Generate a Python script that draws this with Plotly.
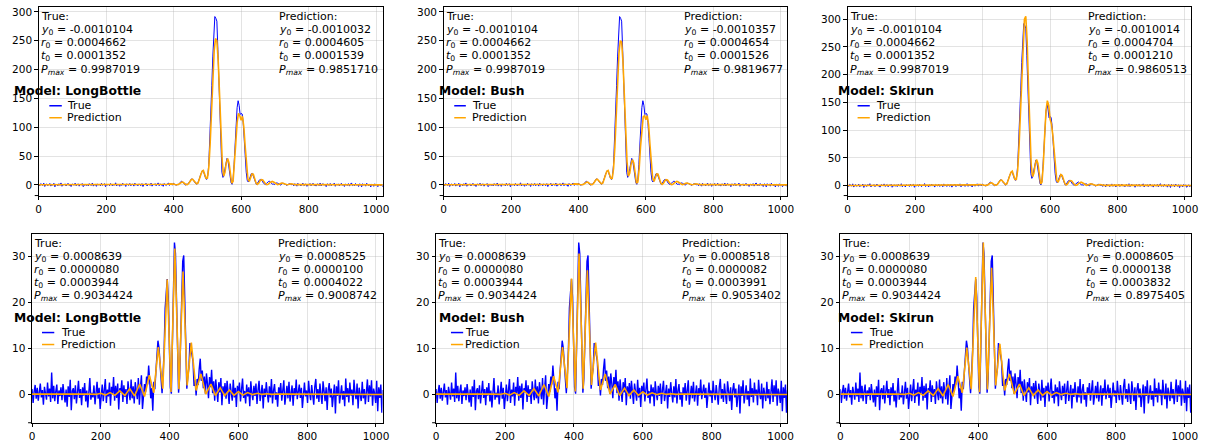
import plotly.graph_objects as go

W, H = 1210, 444

# ------------------------------------------------------------------ data
models = ["LongBottle", "Bush", "Skirun"]
x_ticks = [0, 200, 400, 600, 800, 1000]
top_y_ticks = [0, 50, 100, 150, 200, 250, 300]
bot_y_ticks = [0, 10, 20, 30]

# sample positions of the measured ("True") signals
true_x = list(range(0, 1024, 3))

# --- top row, true signal (shared by the three panels)
top_true_y = [
    1.2, -1.8, 2.2, 0.5, -0.9, 3.1, -2.7, 0.6, 1.6, -1.4,
    0.3, 2.5, -2.1, 0.9, -0.5, 2.8, -3.3, 1.4, 0.2, -1.6,
    2.1, -0.8, 3.4, -2.4, 1.0, -0.3, 1.8, -1.9, 0.8, 2.7,
    -1.0, 0.5, -2.8, 1.5, 0.9, -0.6, 3.0, -1.5, 0.3, 1.9,
    -2.2, 1.2, -0.2, 2.4, -3.0, 0.6, 1.6, -1.2, 1.4, -1.8,
    2.2, 0.0, -0.9, 3.3, -2.1, 0.5, 1.0, -2.5, 1.8, -0.5,
    1.4, -1.6, 2.7, -0.8, 0.3, 2.1, -3.1, 0.9, -0.3, 1.5,
    -1.4, 2.4, 0.2, -1.9, 1.2, -0.6, 3.6, -1.8, 0.8, 0.5,
    -2.4, 1.6, -1.0, 2.8, -0.2, 0.9, -2.7, 1.9, 0.3, -0.8,
    2.5, -1.5, 0.6, 1.4, -2.1, 3.0, -0.5, 1.0, -1.6, 1.8,
    0.2, -1.2, 2.2, -2.8, 0.9, 0.5, 2.7, -1.8, 0.0, 1.6,
    -0.9, 3.1, -2.2, 1.2, -0.3, 2.1, -1.5, 0.8, 3.5, -1.4,
    1.9, -0.6, 1.0, -2.5, 2.4, 0.3, -1.0, 1.5, 3.2, -0.8,
    1.4, 2.1, -0.5, 2.8,
    # x = 402 .. 750
    1.5, 0.2, -0.8, 1.0, 0.5, 2.5, 4.0, 6.5, 5.5, 3.8,
    1.5, -0.5, 1.2, 0.8, 3.0, 5.5, 8.0, 10.5, 9.5, 8.0,
    4.5, 2.0, 1.0, 2.5, 6.0, 12.0, 18.0, 23.5, 25.5, 22.0,
    16.0, 11.0, 9.5, 16.0, 35.0, 72.0, 120.0, 172.0, 222.0, 262.0,
    292.0, 289.0, 284.0, 235.0, 175.0, 110.0, 55.0, 22.0, 13.0, 17.0,
    28.0, 40.0, 46.0, 42.0, 30.0, 14.0, 4.0, 1.0, 9.0, 35.0,
    72.0, 108.0, 134.0, 146.0, 138.0, 122.0, 124.0, 123.0, 108.0, 80.0,
    48.0, 22.0, 8.0, 5.0, 9.0, 15.0, 19.5, 20.0, 15.0, 9.0,
    3.5, 0.8, 2.5, 6.0, 8.5, 9.5, 8.0, 6.5, 3.0, 1.2,
    0.5, 2.5, 4.5, 6.0, 6.5, 5.0, 3.0, 1.0, 1.5, 0.5,
    2.5, 3.5, 3.0, 1.5, 0.2, -0.5, 1.8, 3.0, 2.5, 2.0,
    0.5, -0.8, 1.0, 1.5, 2.2, 1.0, 0.3,
    # x = 753 .. 1023
    0.9, -1.5, 2.1, 0.3, -2.2, 2.7, -0.5, 1.4, -1.8, 0.8,
    3.0, -1.2, 0.5, 1.8, -2.5, 1.0, -0.3, 2.4, -1.6, 0.6,
    2.8, -0.9, 0.2, -2.1, 1.6, 1.2, -1.4, 3.3, -1.9, 0.8,
    2.2, -0.6, 1.4, -3.0, 1.9, 0.3, -1.0, 2.5, -1.5, 0.9,
    0.5, 3.1, -2.4, 1.2, -0.2, 1.8, -1.8, 0.6, 2.7, -0.8,
    1.0, -2.7, 1.5, 0.2, -0.9, 2.2, -2.1, 1.4, 3.4, -1.2,
    0.3, -1.6, 2.4, -0.5, 0.8, -2.8, 1.8, 0.9, -3.4, 2.1,
    -0.3, 1.2, -2.2, 2.8, 0.0, -1.4, 1.6, -3.6, 1.0, 0.5,
    -2.5, 1.9, -0.9, 1.4, -3.1, 0.6, 1.5, -1.9, 0.9, -3.6,
    -0.6,
]

# --- top row, predictions
top_pred_x = [0, 60, 120, 180, 240, 300, 340, 370] + list(range(380, 761, 4)) + [790, 830, 880, 940, 1000, 1023]

top_pred_longbottle = [
    0.2, 0.3, 0.1, 0.3, 0.2, 0.4, 0.6, 0.9,
    0.3, 1.2, 1.8, 2.1, 2.0, 1.4, 0.6, 0.1, 0.3, 1.5,
    3.5, 5.0, 4.5, 2.5, 0.8, 0.5, 2.0, 5.5, 9.0, 10.0,
    7.5, 4.0, 2.0, 3.0, 9.0, 17.0, 23.5, 25.0, 19.0, 11.5,
    12.0, 30.0, 70.0, 125.0, 185.0, 232.0, 254.0, 250.0, 215.0, 158.0,
    92.0, 40.0, 15.0, 22.0, 38.0, 46.0, 38.0, 18.0, 3.0, 6.0,
    32.0, 72.0, 108.0, 124.0, 120.0, 112.0, 119.0, 100.0, 66.0, 32.0,
    10.0, 6.0, 13.0, 19.0, 18.5, 11.0, 3.5, 1.0, 3.0, 7.0,
    9.0, 8.5, 5.0, 2.0, 0.5, 1.0, 3.5, 5.5, 6.0, 5.0,
    3.0, 1.0, 0.5, 1.0, 2.2, 3.0, 2.8, 1.8, 0.8, 0.3,
    0.6, 1.5, 2.0, 1.6, 0.8, 0.4,
    0.8, 0.4, 0.2, 0.3, 0.1, 0.1,
]
top_pred_bush = [
    0.2, 0.3, 0.1, 0.3, 0.2, 0.4, 0.6, 0.9,
    0.3, 1.2, 1.8, 2.1, 2.0, 1.4, 0.6, 0.1, 0.3, 1.5,
    3.5, 5.0, 4.5, 2.5, 0.8, 0.5, 2.0, 5.5, 9.0, 10.0,
    7.5, 4.0, 2.0, 3.0, 9.0, 17.0, 23.5, 25.0, 19.0, 11.0,
    11.0, 28.0, 66.0, 120.0, 180.0, 228.0, 250.0, 248.0, 214.0, 158.0,
    92.0, 40.0, 15.0, 20.0, 36.0, 44.0, 38.0, 18.0, 3.0, 5.0,
    28.0, 66.0, 102.0, 118.0, 120.0, 113.0, 120.0, 104.0, 70.0, 35.0,
    12.0, 6.0, 13.0, 19.0, 18.5, 11.0, 3.5, 1.0, 3.0, 7.0,
    9.0, 8.5, 5.0, 2.0, 0.5, 1.0, 3.5, 5.5, 6.0, 5.0,
    3.0, 1.0, 0.5, 1.0, 2.2, 3.0, 2.8, 1.8, 0.8, 0.3,
    0.6, 1.5, 2.0, 1.6, 0.8, 0.4,
    0.8, 0.4, 0.2, 0.3, 0.1, 0.1,
]
top_pred_skirun = [
    0.2, 0.3, 0.1, 0.3, 0.2, 0.4, 0.6, 0.9,
    0.3, 1.2, 1.8, 2.1, 2.0, 1.4, 0.6, 0.1, 0.3, 1.5,
    3.5, 5.0, 4.5, 2.5, 0.8, 0.5, 2.0, 5.5, 9.0, 10.0,
    7.5, 4.0, 2.0, 3.0, 9.0, 17.0, 24.0, 26.0, 20.0, 11.0,
    11.0, 28.0, 70.0, 135.0, 205.0, 265.0, 300.0, 305.0, 262.0, 180.0,
    95.0, 38.0, 16.0, 22.0, 38.0, 47.0, 40.0, 18.0, 3.0, 6.0,
    38.0, 90.0, 135.0, 153.0, 145.0, 120.0, 111.0, 92.0, 60.0, 28.0,
    9.0, 6.0, 14.0, 20.0, 18.0, 11.0, 3.5, 1.0, 3.0, 7.0,
    9.0, 8.5, 5.0, 2.0, 0.5, 1.0, 3.5, 5.5, 6.0, 5.0,
    3.0, 1.0, 0.5, 1.0, 2.2, 3.0, 2.8, 1.8, 0.8, 0.3,
    0.6, 1.5, 2.0, 1.6, 0.8, 0.4,
    0.8, 0.4, 0.2, 0.3, 0.1, 0.1,
]

# --- bottom row, true signal (shared)
bot_true_y = [
    1.2, -1.8, 0.6, 2.1, -0.9, 1.5, -1.3, 0.4, 2.4, -0.6,
    1.0, -2.2, 1.7, 0.3, -1.1, 2.6, -0.4, 1.3, -1.6, 4.8,
    -0.8, 1.9, -1.4, 0.7, 2.2, -2.0, 0.9, -0.3, 1.6, -1.2,
    2.3, 0.2, -1.7, 1.1, -2.6, 1.8, -0.5, 3.2, -3.4, 0.8,
    1.4, -1.0, 2.0, -1.9, 0.5, 3.0, -0.7, 1.2, -2.3, 1.6,
    -0.2, 2.5, -1.5, 0.9, -2.8, 1.3, 3.6, -1.1, 0.4, -0.6,
    2.0, -2.1, 1.0, 2.8, -0.9, 1.5, -3.1, 0.6, 2.2, -1.4,
    0.8, 3.4, -1.8, 1.1, -0.4, 2.6, -2.4, 1.7, 0.2, 3.8,
    -1.3, 1.9, -0.7, 2.4, -3.2, 1.4, 0.5, 3.1, -1.6, 2.0,
    -0.5, 1.2, -2.0, 2.9, 0.3, -1.2, 3.3, -0.8, 1.8, -1.9,
    2.7, 0.4, -1.0, 3.6, -2.2, 1.5, 4.2, -3.1, 0.9, 2.3,
    0.6, 3.9, 2.2, 6.3, 3.0, -0.8, 1.4, -3.5, 2.8, 1.2,
    5.0, 8.0, 11.7, 10.2, 6.0, 4.2, 0.3, 4.5, 9.6, 18.8,
    23.0, 25.1, 21.2, 10.0, 1.6, 0.2, 10.3, 21.0, 33.0, 30.6,
    21.8, 8.2, 0.4, 3.5, 12.2, 24.6, 28.9, 30.2, 18.4, 9.8,
    1.3, 4.0, 5.8, 11.2, 10.2, 8.6, 7.2, 1.9, 3.1, -0.2,
    3.4, 2.1, 5.6, 7.8, 3.0, 5.2, 1.4, 3.9, 0.2, 4.6,
    2.4, -0.8, 3.8, 1.6, 5.4, 0.3, 2.9, -1.3, 3.3, 1.0,
    -1.6, 2.7, 0.5, 3.6, -2.3, 1.8, 0.1, 2.5, -0.9, 3.0,
    1.1, -2.0, 2.4, 0.2, -1.3, 3.2, -0.6, 1.5, -2.7, 1.9,
    0.3, 2.6, -1.5, 1.1, 3.5, -0.7, 0.8, -1.9, 2.2, -0.4,
    1.6, -2.5, 2.9, 0.4, -1.2, 1.9, -0.3, 2.4, -2.0, 1.0,
    3.0, -1.4, 0.6, 2.1, -3.0, 1.3, -0.5, 2.7, 0.2, -1.7,
    1.8, -0.6, 3.4, -1.9, 0.9, 2.3, -1.1, 0.5, -2.6, 1.6,
    0.1, 2.5, -1.3, 1.0, 3.1, -2.2, 0.7, 1.9, -0.8, 2.8,
    -1.5, 0.6, 2.0, -2.4, 1.4, -0.2, 3.3, -1.0, 0.8, 2.2,
    -0.7, 1.5, -2.9, 1.1, 2.6, -0.4, 0.9, -1.8, 3.0, 0.3,
    -1.2, 2.1, 0.5, -2.2, 1.7, 3.4, -0.9, 1.2, -1.6, 2.4,
    0.0, -2.0, 2.9, 0.7, -1.4, 1.6, -3.3, 1.0, 2.5, -0.6,
    1.3, -2.7, 0.4, 2.2, -4.1, 1.8, -0.3, 3.1, -1.9, 0.6,
    2.0, -1.1, 0.8, -2.5, 3.5, -0.5, 1.4, -1.7, 2.6, -0.2,
    1.1, -2.3, 3.2, 0.2, -1.0, 2.4, -3.0, 1.5, 0.4, -1.4,
    2.8, -0.8, 1.2, -2.1, 0.6, 3.3, -1.6, 2.0, -0.4, 3.1,
    -2.4, 1.3, 0.3, -1.8, 3.0, -3.6, 1.6, -0.7, 2.2, -3.9,
    1.0, -2.5,
]

# --- bottom row, predictions (sampled at ripple extrema)
bot_pred_x = [0, 40, 80, 120, 160, 186, 200, 213, 227, 241, 255, 270, 284, 298, 313, 327,
              341, 354, 367, 380, 393, 404, 415, 427, 439, 451, 463, 477, 491, 505, 520,
              533, 547, 560, 574, 587, 600, 613, 627, 641, 655, 669, 683, 697, 711, 740,
              800, 860, 920, 980, 1023]
bot_pred_longbottle = [0.1, 0.15, 0.1, 0.2, 0.15, 0.05, 0.3, -0.1, 0.45, -0.15, 0.8, -0.2, 1.3, -0.3, 2.3, -0.4,
                       4.2, 0.4, 10.3, 1.3, 25.0, 0.6, 31.7, 1.2, 26.7, 2.0, 11.3, 0.9, 4.5, 0.1, 2.3,
                       -0.2, 1.5, -0.2, 1.0, -0.15, 0.65, -0.1, 0.45, 0.0, 0.3, 0.05, 0.2, 0.05, 0.15, 0.1,
                       0.05, 0.05, 0.03, 0.02, 0.02]
bot_pred_bush = [0.1, 0.15, 0.1, 0.2, 0.15, 0.05, 0.3, -0.1, 0.45, -0.15, 0.8, -0.2, 1.3, -0.3, 2.2, -0.4,
                 4.0, 0.5, 10.3, 1.4, 25.2, 0.7, 30.6, 1.3, 27.0, 2.1, 11.3, 1.0, 4.5, 0.1, 2.2,
                 -0.2, 1.4, -0.2, 1.0, -0.15, 0.6, -0.1, 0.4, 0.0, 0.3, 0.05, 0.2, 0.05, 0.15, 0.1,
                 0.05, 0.05, 0.03, 0.02, 0.02]
bot_pred_skirun = [0.1, 0.15, 0.1, 0.2, 0.15, 0.05, 0.3, -0.1, 0.45, -0.15, 0.8, -0.2, 1.3, -0.3, 2.2, -0.4,
                   4.0, 0.4, 10.2, 1.2, 25.5, 0.5, 33.0, 1.1, 27.5, 2.0, 11.0, 0.9, 4.5, 0.1, 2.3,
                   -0.2, 1.5, -0.2, 1.0, -0.15, 0.65, -0.1, 0.45, 0.0, 0.3, 0.05, 0.2, 0.05, 0.15, 0.1,
                   0.05, 0.05, 0.03, 0.02, 0.02]

# --- parameter read-outs
top_true_params = ["-0.0010104", "0.0004662", "0.0001352", "0.9987019"]
top_pred_params = {
    "LongBottle": ["-0.0010032", "0.0004605", "0.0001539", "0.9851710"],
    "Bush": ["-0.0010357", "0.0004654", "0.0001526", "0.9819677"],
    "Skirun": ["-0.0010014", "0.0004704", "0.0001210", "0.9860513"],
}
bot_true_params = ["0.0008639", "0.0000080", "0.0003944", "0.9034424"]
bot_pred_params = {
    "LongBottle": ["0.0008525", "0.0000100", "0.0004022", "0.9008742"],
    "Bush": ["0.0008518", "0.0000082", "0.0003991", "0.9053402"],
    "Skirun": ["0.0008605", "0.0000138", "0.0003832", "0.8975405"],
}

assert len(top_true_y) == len(true_x), len(top_true_y)
assert len(bot_true_y) == len(true_x), len(bot_true_y)
for arr in (top_pred_longbottle, top_pred_bush, top_pred_skirun):
    assert len(arr) == len(top_pred_x), len(arr)
for arr in (bot_pred_longbottle, bot_pred_bush, bot_pred_skirun):
    assert len(arr) == len(bot_pred_x), len(arr)

# ------------------------------------------------------------------ layout (pixel geometry)
FONT = "DejaVu Sans"
BLUE = "#0000ff"
ORANGE = "#ffa500"

# (left, right, top, bottom) of each plotting area, in pixels
panels = [
    dict(box=(36.0, 382.7, 6.0, 195.0), yr=[-18.5, 308.6], yt=top_y_ticks, bw=1.0,
         true=top_true_y, px=top_pred_x, py=top_pred_longbottle, model="LongBottle",
         tp=top_true_params, pp=top_pred_params["LongBottle"], leg=(12.7, 46.7, 59.3, 66.7)),
    dict(box=(444.3, 790.7, 6.0, 195.0), yr=[-18.5, 308.6], yt=top_y_ticks, bw=1.0,
         true=top_true_y, px=top_pred_x, py=top_pred_bush, model="Bush",
         tp=top_true_params, pp=top_pred_params["Bush"], leg=(441.7, 455.0, 466.7, 475.0)),
    dict(box=(851.7, 1198.3, 6.0, 195.0), yr=[-18.0, 322.0], yt=top_y_ticks, bw=1.0,
         true=top_true_y, px=top_pred_x, py=top_pred_skirun, model="Skirun",
         tp=top_true_params, pp=top_pred_params["Skirun"], leg=(844.0, 861.7, 874.0, 882.3)),
    dict(box=(29.3, 382.7, 233.3, 422.7), yr=[-6.1, 34.9], yt=bot_y_ticks, bw=1.4,
         true=bot_true_y, px=bot_pred_x, py=bot_pred_longbottle, model="LongBottle",
         tp=bot_true_params, pp=bot_pred_params["LongBottle"], leg=(12.7, 39.3, 51.7, 60.0)),
    dict(box=(436.7, 790.7, 233.3, 422.7), yr=[-6.1, 34.9], yt=bot_y_ticks, bw=1.4,
         true=bot_true_y, px=bot_pred_x, py=bot_pred_bush, model="Bush",
         tp=bot_true_params, pp=bot_pred_params["Bush"], leg=(441.7, 451.7, 464.0, 468.3)),
    dict(box=(844.3, 1198.3, 233.3, 422.7), yr=[-6.1, 34.9], yt=bot_y_ticks, bw=1.4,
         true=bot_true_y, px=bot_pred_x, py=bot_pred_skirun, model="Skirun",
         tp=bot_true_params, pp=bot_pred_params["Skirun"], leg=(844.3, 855.0, 866.7, 875.0)),
]

fig = go.Figure()
layout = dict(
    width=W, height=H, margin=dict(l=0, r=0, t=0, b=0),
    paper_bgcolor="white", plot_bgcolor="white", showlegend=False,
    font=dict(family=FONT, size=11, color="black"),
)
annotations = []
shapes = []

labels = ["<i>y</i><sub>0</sub> = ", "<i>r</i><sub>0</sub> = ",
          "<i>t</i><sub>0</sub> = ", "<i>P</i><sub><i>max</i></sub> = "]
LINE_H = 13.3
FIRST = 9.6
TXT_DX = -2.0   # compensates the small inner offset of annotation text
PRED_FRAC = 0.706


def text_ann(text, xpx, ypx, size=11):
    return dict(text=text, xref="paper", yref="paper", x=(xpx + TXT_DX) / W, y=1 - ypx / H,
                xanchor="left", yanchor="middle", showarrow=False,
                borderpad=0, borderwidth=0,
                font=dict(family=FONT, size=size, color="black"))


for i, p in enumerate(panels):
    n = i + 1
    xa = "xaxis" if n == 1 else f"xaxis{n}"
    ya = "yaxis" if n == 1 else f"yaxis{n}"
    xr = "x" if n == 1 else f"x{n}"
    yr = "y" if n == 1 else f"y{n}"
    l, r, t, b = p["box"]
    axis_common = dict(
        showline=True, linecolor="black", linewidth=1, mirror=True,
        ticks="outside", ticklen=3.5, tickwidth=1, tickcolor="black",
        showgrid=True, gridcolor="rgba(176,176,176,0.35)", gridwidth=1,
        zeroline=False, tickfont=dict(family=FONT, size=10.5, color="black"),
    )
    layout[xa] = dict(axis_common, domain=[l / W, r / W], anchor=yr, range=[0, 1019],
                      tickvals=x_ticks, ticktext=[str(v) for v in x_ticks])
    layout[ya] = dict(axis_common, domain=[1 - b / H, 1 - t / H], anchor=xr, range=p["yr"],
                      tickvals=p["yt"], ticktext=[str(v) for v in p["yt"]])

    fig.add_trace(go.Scatter(x=true_x, y=p["true"], mode="lines", xaxis=xr, yaxis=yr,
                             line=dict(color=BLUE, width=p["bw"]), name="True"))
    fig.add_trace(go.Scatter(x=p["px"], y=p["py"], mode="lines", xaxis=xr, yaxis=yr,
                             line=dict(color=ORANGE, width=1.6), name="Prediction"))

    # parameter blocks
    true_lines = ["True:"] + [lab + v for lab, v in zip(labels, p["tp"])]
    pred_lines = ["Prediction:"] + [lab + v for lab, v in zip(labels, p["pp"])]
    for k, (tl, pl) in enumerate(zip(true_lines, pred_lines)):
        yy = t + FIRST + LINE_H * k
        annotations.append(text_ann(tl, l + 4, yy))
        annotations.append(text_ann(pl, l + PRED_FRAC * (r - l), yy))

    # legend (title + two entries)
    tx, lx0, lx1, txt = p["leg"]
    annotations.append(text_ann("<b>Model: " + p["model"] + "</b>", tx, t + 84.0, size=12.3))
    for k, (name, col) in enumerate([("True", BLUE), ("Prediction", ORANGE)]):
        yy = t + 99.0 + 12.0 * k
        shapes.append(dict(type="line", xref="paper", yref="paper", x0=lx0 / W, x1=lx1 / W,
                           y0=1 - yy / H, y1=1 - yy / H,
                           line=dict(color=col, width=1.5)))
        annotations.append(text_ann(name, txt, yy))
    # small corner tick below the plotting area
    shapes.append(dict(type="line", xref="paper", yref="paper", x0=(l - 4) / W, x1=l / W,
                       y0=1 - b / H, y1=1 - b / H, line=dict(color="black", width=1)))

layout["annotations"] = annotations
layout["shapes"] = shapes
fig.update_layout(**layout)
fig.write_html("out.html")
